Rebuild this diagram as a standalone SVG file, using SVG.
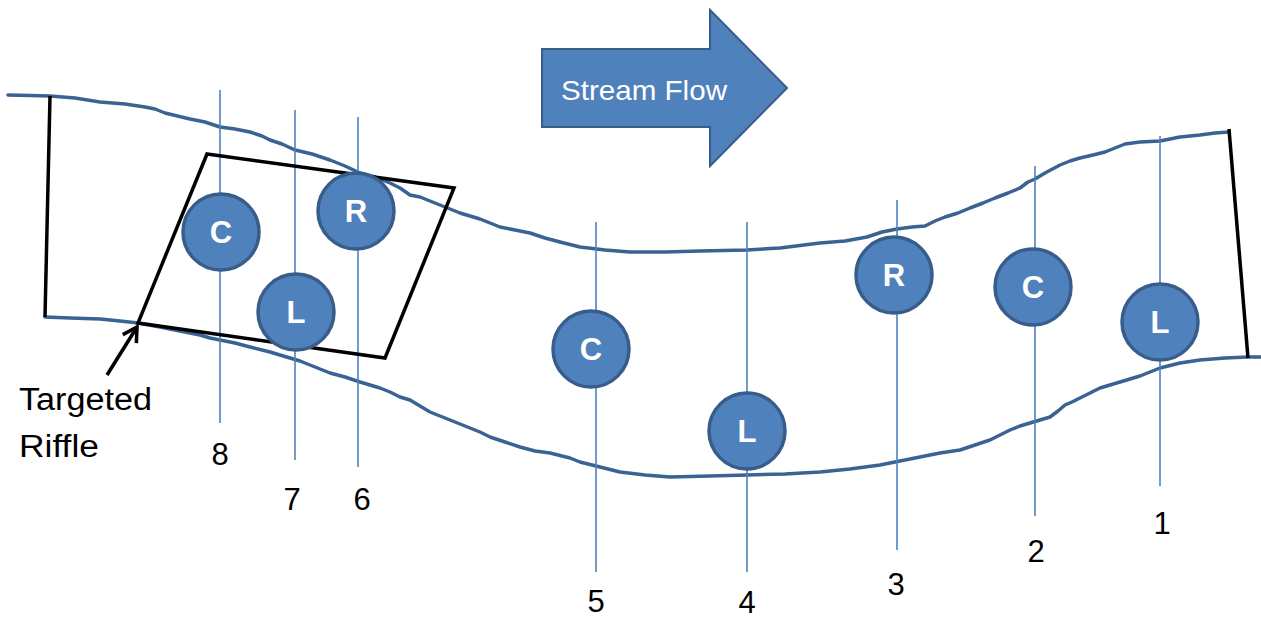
<svg xmlns="http://www.w3.org/2000/svg" width="1261" height="619" viewBox="0 0 1261 619">
<style>
.bank{fill:none;stroke:#3a6293;stroke-width:3.5;stroke-linejoin:round;stroke-linecap:round}
.tr{stroke:#4f81bd;stroke-width:1.6}
.blk{fill:none;stroke:#000;stroke-width:3.5;stroke-linejoin:miter}
.site circle{fill:#4f81bd;stroke:#385d8a;stroke-width:3.5}
.site text{fill:#fff;font-family:"Liberation Sans",Arial,sans-serif;font-weight:bold;font-size:31px;text-anchor:middle}
.lbl{fill:#000;font-family:"Liberation Sans",Arial,sans-serif;font-size:31px}
.num{fill:#000;font-family:"Liberation Sans",Arial,sans-serif;font-size:31px;text-anchor:middle}
</style>
<defs>
<marker id="open" viewBox="0 0 20 20" refX="17" refY="10" markerWidth="20" markerHeight="20" markerUnits="userSpaceOnUse" orient="auto">
<path d="M3,2 L17,10 L3,18" fill="none" stroke="#000" stroke-width="3.5"/>
</marker>
</defs>
<rect width="1261" height="619" fill="#fff"/>

<g id="banks">
<polyline class="bank" points="8,95 30,95.5 50,96 75,98 100,102 125,104 145,107 155,109 165,113 190,119 205,122 220,127 235,129 250,132 262,136 270,140 282,144 295,150 312,154 330,160 345,166 360,173 375,177 390,183 400,188 410,195 420,197 440,205 450,209 460,213 480,219 500,227 515,230 530,233 545,238 560,242 580,247 605,250 630,252 665,252 700,251 747,250 780,248 820,243 845,241 867,237 882,232 897,229 912,227 925,226 935,221 945,217 958,213 970,208 983,203 995,198 1008,193 1020,188 1028,182 1035,179 1045,173 1060,165 1070,161 1080,158 1093,155 1105,152 1115,148 1125,144 1140,142 1160,141 1180,137 1200,135 1215,133 1229,132"/>
<polyline class="bank" points="45,317 70,318 100,319 120,321 138,323 160,327 180,331 200,335 210,338 220,340 235,343 250,347 270,352 290,358 300,361 310,365 320,369 330,373 345,377 360,382 370,385 380,388 390,392 400,397 410,400 420,406 430,412 440,416 450,420 460,424 470,428 480,432 490,437 505,442 520,447 535,451 550,453 570,458 580,462 600,467 620,472 645,475 670,477 710,476 747,475 785,474 820,472 850,469 880,465 900,461 920,457 940,453 960,450 975,445 990,440 1000,435 1010,430 1020,426 1030,423 1040,420 1050,417 1058,411 1065,405 1072,402 1080,398 1090,393 1100,388 1110,385 1120,382 1130,379 1140,376 1150,372 1160,368 1180,363 1200,360 1225,358 1248,357 1261,357"/>
</g>

<g id="transects">
<line class="tr" x1="220" y1="90" x2="220" y2="423"/>
<line class="tr" x1="295" y1="110" x2="295" y2="460"/>
<line class="tr" x1="358" y1="117" x2="358" y2="467"/>
<line class="tr" x1="596" y1="222" x2="596" y2="572"/>
<line class="tr" x1="747" y1="222" x2="747" y2="572"/>
<line class="tr" x1="897" y1="200" x2="897" y2="550"/>
<line class="tr" x1="1035" y1="166" x2="1035" y2="516"/>
<line class="tr" x1="1160" y1="136" x2="1160" y2="486"/>
</g>

<g id="reach-ends">
<line class="blk" x1="50" y1="96" x2="45" y2="317"/>
<line class="blk" x1="1229" y1="129" x2="1248" y2="358"/>
</g>

<g id="riffle">
<polygon class="blk" points="207,154 454,188 385,358 138,323"/>
</g>

<g id="flow-arrow">
<polygon points="542,49 710,49 710,10 787,88 710,166 710,127 542,127" fill="#4f81bd" stroke="#385d8a" stroke-width="2"/>
<text x="561" y="100" fill="#fff" font-family="Liberation Sans, Arial, sans-serif" font-size="28" textLength="166" lengthAdjust="spacingAndGlyphs">Stream Flow</text>
</g>

<g id="site-8C" class="site"><circle cx="221" cy="232" r="38"/><text x="221" y="243">C</text></g>
<g id="site-6R" class="site"><circle cx="356" cy="211" r="38"/><text x="356" y="222">R</text></g>
<g id="site-7L" class="site"><circle cx="296" cy="312" r="38"/><text x="296" y="323">L</text></g>
<g id="site-5C" class="site"><circle cx="591" cy="349" r="38"/><text x="591" y="360">C</text></g>
<g id="site-4L" class="site"><circle cx="747" cy="431" r="38"/><text x="747" y="442">L</text></g>
<g id="site-3R" class="site"><circle cx="894" cy="275" r="38"/><text x="894" y="286">R</text></g>
<g id="site-2C" class="site"><circle cx="1033" cy="287" r="38"/><text x="1033" y="298">C</text></g>
<g id="site-1L" class="site"><circle cx="1160" cy="322" r="38"/><text x="1160" y="333">L</text></g>

<g id="connectors">
<line x1="107" y1="375" x2="137" y2="327" stroke="#000" stroke-width="3.5" marker-end="url(#open)"/>
</g>

<g id="labels">
<text class="lbl" x="19" y="410" textLength="133" lengthAdjust="spacingAndGlyphs">Targeted</text>
<text class="lbl" x="19" y="457" textLength="80" lengthAdjust="spacingAndGlyphs">Riffle</text>
<text class="num" x="220" y="465">8</text>
<text class="num" x="292" y="510">7</text>
<text class="num" x="362" y="510">6</text>
<text class="num" x="596" y="612">5</text>
<text class="num" x="747" y="613">4</text>
<text class="num" x="896" y="595">3</text>
<text class="num" x="1036" y="562">2</text>
<text class="num" x="1162" y="534">1</text>
</g>
</svg>
